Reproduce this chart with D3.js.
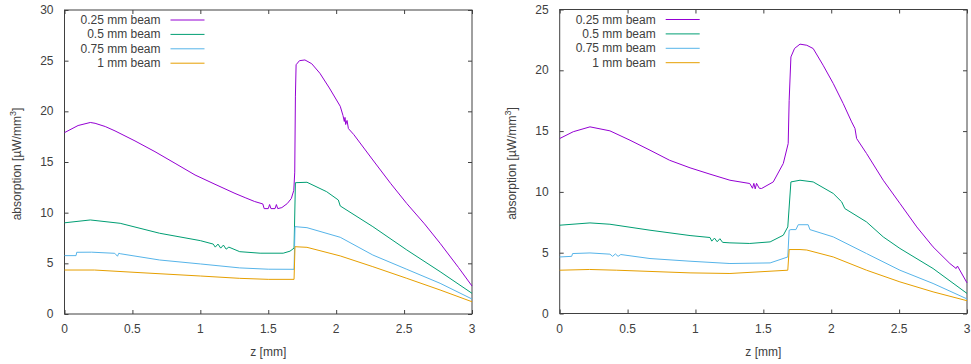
<!DOCTYPE html>
<html>
<head>
<meta charset="utf-8">
<script src="https://cdn.jsdelivr.net/npm/d3@7"></script>
<style>
  body { margin: 0; background: #fff; }
  svg text { font-family: "Liberation Sans", Arial, sans-serif; font-size: 12px; fill: #404040; }
</style>
</head>
<body>
<svg id="chart" width="971" height="364"></svg>
<script>
const seriesNames = ['0.25 mm beam', '0.5 mm beam', '0.75 mm beam', '1 mm beam'];
const seriesColors = ['#9400d3', '#009e73', '#56b4e9', '#e69f00'];
const xTicks = [0, 0.5, 1, 1.5, 2, 2.5, 3];
const yTicksLeft = [0, 5, 10, 15, 20, 25, 30];
const yTicksRight = [0, 5, 10, 15, 20, 25];

// left panel
const leftBeam025 = [[0,17.9],[0.1,18.6],[0.19,18.9],[0.225,18.82],[0.3,18.5],[0.372,18.07],[0.519,17.08],[0.666,16.02],[0.814,14.87],[0.961,13.72],[1.108,12.8],[1.255,11.9],[1.33,11.48],[1.4,11.1],[1.46,10.86],[1.47,10.4],[1.5,10.4],[1.51,10.8],[1.52,10.4],[1.55,10.4],[1.56,10.8],[1.57,10.4],[1.6,10.5],[1.64,10.9],[1.67,11.4],[1.688,12.2],[1.695,14],[1.7,21.5],[1.705,24.6],[1.73,25.0],[1.77,25.07],[1.82,24.7],[1.88,23.76],[1.95,22.3],[2.03,20.5],[2.05,19.6],[2.06,19.0],[2.065,19.4],[2.07,18.7],[2.08,19.1],[2.09,18.3],[2.13,17.7],[2.27,15.2],[2.4,12.9],[2.52,10.9],[2.65,8.9],[2.765,6.98],[2.9,4.6],[3.0,2.76]];
const leftBeam05 = [[0,9.0],[0.19,9.28],[0.41,8.95],[0.7,7.97],[1.0,7.24],[1.095,6.9],[1.11,6.6],[1.13,6.9],[1.15,6.5],[1.17,6.8],[1.19,6.4],[1.21,6.6],[1.29,6.15],[1.44,6.0],[1.61,6.0],[1.66,6.2],[1.69,6.5],[1.7,12.96],[1.785,13.0],[1.93,12.07],[2.016,11.25],[2.03,10.66],[2.27,8.62],[2.52,6.32],[2.765,4.18],[3.0,2.04]];
const leftBeam075 = [[0,5.76],[0.085,5.76],[0.09,6.09],[0.2,6.1],[0.37,5.99],[0.39,5.7],[0.4,6.0],[0.41,5.95],[0.7,5.33],[1.0,4.94],[1.29,4.55],[1.5,4.42],[1.69,4.41],[1.697,8.62],[1.785,8.52],[2.03,7.57],[2.27,5.82],[2.52,4.41],[2.765,3.03],[3.0,1.48]];
const leftBeam1 = [[0,4.34],[0.22,4.34],[0.556,4.08],[1.0,3.75],[1.29,3.52],[1.5,3.42],[1.69,3.42],[1.697,6.64],[1.785,6.58],[2.03,5.73],[2.27,4.67],[2.52,3.52],[2.765,2.37],[3.0,1.21]];

// right panel
const rightBeam025 = [[0,14.39],[0.1,14.95],[0.223,15.35],[0.37,15.02],[0.518,14.25],[0.665,13.43],[0.81,12.6],[0.96,11.98],[1.107,11.46],[1.254,10.96],[1.4,10.69],[1.42,10.3],[1.43,10.7],[1.44,10.25],[1.45,10.7],[1.47,10.3],[1.487,10.28],[1.573,10.82],[1.647,12.34],[1.683,13.98],[1.69,17.5],[1.703,21.1],[1.73,21.8],[1.77,22.15],[1.82,22.06],[1.867,21.79],[1.94,20.42],[2.015,18.91],[2.088,17.27],[2.15,15.76],[2.175,15.21],[2.187,14.39],[2.26,13.16],[2.383,10.96],[2.506,9.05],[2.63,7.12],[2.75,5.48],[2.874,4.11],[2.92,3.7],[2.93,3.9],[3.0,2.52]];
const rightBeam05 = [[0,7.26],[0.223,7.45],[0.37,7.34],[0.665,6.85],[0.96,6.41],[1.107,6.25],[1.12,5.95],[1.14,6.2],[1.16,5.9],[1.18,6.15],[1.2,5.85],[1.254,5.81],[1.4,5.76],[1.55,5.89],[1.647,6.44],[1.68,7.12],[1.703,10.82],[1.77,10.96],[1.867,10.82],[2.015,9.87],[2.077,9.18],[2.1,8.63],[2.26,7.53],[2.383,6.3],[2.506,5.35],[2.75,3.7],[3.0,1.65]];
const rightBeam075 = [[0,4.65],[0.088,4.7],[0.095,4.93],[0.223,4.98],[0.37,4.88],[0.39,4.7],[0.41,4.9],[0.43,4.7],[0.45,4.85],[0.665,4.52],[0.96,4.3],[1.254,4.11],[1.55,4.16],[1.68,4.65],[1.69,6.85],[1.703,6.9],[1.74,6.9],[1.757,7.3],[1.83,7.3],[1.843,6.9],[2.015,6.3],[2.26,4.93],[2.506,3.56],[2.75,2.47],[3.0,1.2]];
const rightBeam1 = [[0,3.56],[0.22,3.62],[0.42,3.56],[0.96,3.34],[1.254,3.29],[1.68,3.56],[1.69,5.26],[1.77,5.26],[1.82,5.22],[2.015,4.65],[2.26,3.56],[2.506,2.6],[2.75,1.78],[3.0,1.05]];

const svg = d3.select('#chart');
const axisColor = '#404040';

function drawPanel(opts) {
  const { left, right, top, bottom, yMax, yTicks, series, labelX } = opts;
  const x = d3.scaleLinear().domain([0, 3]).range([left, right]);
  const y = d3.scaleLinear().domain([0, yMax]).range([bottom, top]);
  const g = svg.append('g');

  // inward ticks, mirrored on top and right
  const bottomAxis = d3.axisBottom(x).tickValues(xTicks).tickSize(-4).tickFormat('');
  const topAxis = d3.axisTop(x).tickValues(xTicks).tickSize(-4).tickFormat('');
  const leftAxis = d3.axisLeft(y).tickValues(yTicks).tickSize(-4).tickFormat('');
  const rightAxis = d3.axisRight(y).tickValues(yTicks).tickSize(-4).tickFormat('');
  [[bottomAxis, `translate(0,${bottom})`], [topAxis, `translate(0,${top})`],
   [leftAxis, `translate(${left},0)`], [rightAxis, `translate(${right},0)`]].forEach(([ax, tr]) => {
    const a = g.append('g').attr('transform', tr).call(ax);
    a.select('.domain').remove();
    a.selectAll('line').attr('stroke', axisColor);
  });

  g.append('rect')
    .attr('x', left).attr('y', top)
    .attr('width', right - left).attr('height', bottom - top)
    .attr('fill', 'none').attr('stroke', axisColor).attr('stroke-width', 1);

  g.selectAll('.xlab').data(xTicks).enter().append('text')
    .attr('x', d => x(d)).attr('y', bottom + 19)
    .attr('text-anchor', 'middle')
    .text(d => d);

  g.selectAll('.ylab').data(yTicks).enter().append('text')
    .attr('x', left - 11).attr('y', d => y(d) + 4)
    .attr('text-anchor', 'end')
    .text(d => d);

  g.append('text')
    .attr('x', (left + right) / 2).attr('y', bottom + 42)
    .attr('text-anchor', 'middle')
    .text('z [mm]');

  const yl = g.append('text')
    .attr('transform', `translate(${labelX},${(top + bottom) / 2 + 2}) rotate(-90)`)
    .attr('text-anchor', 'middle');
  yl.append('tspan').text('absorption [µW/mm');
  yl.append('tspan').attr('dy', -5).style('font-size', '9px').text('3');
  yl.append('tspan').attr('dy', 5).text(']');

  const line = d3.line().x(d => x(d[0])).y(d => y(d[1]));
  series.forEach((s, i) => {
    g.append('path')
      .datum(s)
      .attr('d', line)
      .attr('fill', 'none')
      .attr('stroke', seriesColors[i])
      .attr('stroke-width', 1)
      .attr('stroke-linejoin', 'round');
  });

  // legend
  const legX = left + 96;
  seriesNames.forEach((name, i) => {
    const ly = top + 10 + i * 14.4;
    g.append('text')
      .attr('x', legX).attr('y', ly + 4)
      .attr('text-anchor', 'end')
      .text(name);
    g.append('line')
      .attr('x1', legX + 10).attr('x2', legX + 44)
      .attr('y1', ly).attr('y2', ly)
      .attr('stroke', seriesColors[i]).attr('stroke-width', 1);
  });
}

drawPanel({
  left: 64.5, right: 472, top: 10, bottom: 314, yMax: 30, yTicks: yTicksLeft,
  series: [leftBeam025, leftBeam05, leftBeam075, leftBeam1], labelX: 21
});
drawPanel({
  left: 559.7, right: 967, top: 9.5, bottom: 313.5, yMax: 25, yTicks: yTicksRight,
  series: [rightBeam025, rightBeam05, rightBeam075, rightBeam1], labelX: 516
});
</script>
</body>
</html>
